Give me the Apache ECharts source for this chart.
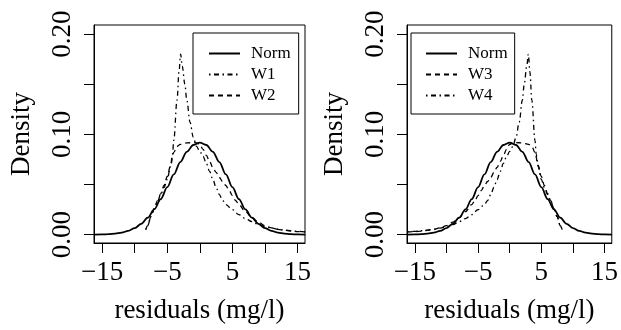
<!DOCTYPE html>
<html>
<head>
<meta charset="utf-8">
<script src="https://cdn.jsdelivr.net/npm/echarts@6/dist/echarts.min.js"></script>
<style>
  html, body { margin: 0; padding: 0; background: #fff; }
  #chart { width: 621px; height: 330px; }
</style>
</head>
<body>
<div id="chart"></div>
<script>
// values: [residual, density]
const normLeft = [
  [-16.2, 0.0001], [-15, 0.0002], [-14, 0.0005], [-13, 0.0011], [-12, 0.0020],
  [-11, 0.0038], [-10, 0.0065], [-9, 0.0108], [-8, 0.0169], [-7, 0.0252],
  [-6, 0.0355], [-5, 0.0474], [-4, 0.0601], [-3, 0.0724], [-2, 0.0826],
  [-1, 0.0894], [0, 0.0918], [1, 0.0894], [2, 0.0826], [3, 0.0724],
  [4, 0.0601], [5, 0.0474], [6, 0.0355], [7, 0.0252], [8, 0.0169],
  [9, 0.0108], [10, 0.0065], [11, 0.0038], [12, 0.0020], [13, 0.0011],
  [14, 0.0005], [15, 0.0002], [16.2, 0.0001]
];
const w1 = [
  [-8.3, 0.005], [-8.0, 0.009], [-7.5, 0.018], [-7.0, 0.026], [-6.5, 0.033],
  [-6.0, 0.040], [-5.5, 0.047], [-5.0, 0.055], [-4.5, 0.068], [-4.2, 0.080],
  [-4.0, 0.094], [-3.5, 0.134], [-3.2, 0.162], [-2.95, 0.180], [-2.7, 0.168],
  [-2.3, 0.150], [-2.0, 0.134], [-1.5, 0.112], [-1.0, 0.097], [-0.5, 0.088],
  [0, 0.083], [0.5, 0.078], [1.0, 0.071], [1.5, 0.063], [2.0, 0.055],
  [2.5, 0.047], [3.0, 0.040], [3.5, 0.034], [4, 0.030], [5, 0.025],
  [6, 0.020], [7, 0.016], [8, 0.013], [9, 0.010], [10, 0.008],
  [11, 0.0066], [12, 0.0055], [13, 0.0046], [14, 0.0039], [15, 0.0033],
  [16.2, 0.0028]
];
const w2 = [
  [-8.3, 0.005], [-8.0, 0.009], [-7.5, 0.018], [-7.0, 0.026], [-6.5, 0.034],
  [-6.0, 0.041], [-5.5, 0.049], [-5.0, 0.058], [-4.5, 0.069], [-4.0, 0.082],
  [-3.5, 0.088], [-3.0, 0.090], [-2.0, 0.0915], [-1.0, 0.0918], [-0.5, 0.0915],
  [0, 0.090], [0.5, 0.085], [1.0, 0.079], [1.5, 0.073], [2.0, 0.067],
  [2.5, 0.062], [3.0, 0.057], [3.5, 0.053], [4.0, 0.049], [4.5, 0.044],
  [5.0, 0.039], [5.5, 0.034], [6, 0.030], [7, 0.023], [8, 0.017],
  [9, 0.0125], [10, 0.009], [11, 0.0068], [12, 0.0053], [13, 0.0043],
  [14, 0.0036], [15, 0.0031], [16.2, 0.0027]
];
const normRight = normLeft;
const w3 = [
  [-16.2, 0.0027], [-15, 0.0031], [-14, 0.0036], [-13, 0.0043], [-12, 0.0053],
  [-11, 0.0068], [-10, 0.009], [-9, 0.0125], [-8, 0.017], [-7, 0.023],
  [-6, 0.030], [-5.5, 0.034], [-5.0, 0.039], [-4.5, 0.044], [-4.0, 0.049],
  [-3.5, 0.053], [-3.0, 0.057], [-2.5, 0.062], [-2.0, 0.067], [-1.5, 0.073],
  [-1.0, 0.079], [-0.5, 0.085], [0, 0.090], [0.5, 0.0915], [1.0, 0.0918],
  [2.0, 0.0915], [3.0, 0.090], [3.5, 0.088], [4.0, 0.082], [4.5, 0.069],
  [5.0, 0.058], [5.5, 0.049], [6.0, 0.041], [6.5, 0.034], [7.0, 0.026],
  [7.5, 0.018], [8.0, 0.009], [8.3, 0.005]
];
const w4 = [
  [-16.2, 0.0028], [-15, 0.0033], [-14, 0.0039], [-13, 0.0046], [-12, 0.0055],
  [-11, 0.0066], [-10, 0.008], [-9, 0.010], [-8, 0.013], [-7, 0.016],
  [-6, 0.020], [-5, 0.025], [-4, 0.030], [-3.5, 0.034], [-3.0, 0.040],
  [-2.5, 0.047], [-2.0, 0.055], [-1.5, 0.063], [-1.0, 0.071], [-0.5, 0.078],
  [0, 0.083], [0.5, 0.088], [1.0, 0.097], [1.5, 0.112], [2.0, 0.134],
  [2.3, 0.150], [2.7, 0.168], [2.95, 0.180], [3.2, 0.162], [3.5, 0.134],
  [4.0, 0.094], [4.2, 0.080], [4.5, 0.068], [5.0, 0.055], [5.5, 0.047],
  [6.0, 0.040], [6.5, 0.033], [7.0, 0.026], [7.5, 0.018], [8.0, 0.009],
  [8.3, 0.005]
];
const xTicks = [-15, -10, -5, 0, 5, 10, 15];
const xLabels = [-15, -5, 5, 15];
const yTicks = [0, 0.05, 0.1, 0.15, 0.2];
const yLabels = [0, 0.1, 0.2];

const FONT = 'Liberation Serif';
const DASHED = [5, 4];
const DOTDASH = [1.5, 3.5, 5, 3.5];

const chart = echarts.init(document.getElementById('chart'));

const xAxisOf = (gridIndex) => ({
  type: 'value',
  gridIndex,
  min: -16.25,
  max: 16.15,
  name: 'residuals (mg/l)',
  nameLocation: 'middle',
  nameGap: 54,
  nameTextStyle: { fontFamily: FONT, fontSize: 27, color: '#000' },
  axisLine: { show: true, onZero: false, lineStyle: { color: '#000', width: 1 } },
  axisTick: { show: true, length: 10, customValues: xTicks, lineStyle: { color: '#000' } },
  axisLabel: {
    customValues: xLabels,
    margin: 16,
    fontFamily: FONT,
    fontSize: 27,
    color: '#000',
    formatter: (v) => (v < 0 ? '\u2212' : '') + Math.abs(v),
  },
  splitLine: { show: false },
});

const yAxisOf = (gridIndex) => ({
  type: 'value',
  gridIndex,
  min: -0.0083,
  max: 0.209,
  name: 'Density',
  nameLocation: 'middle',
  nameGap: 59,
  nameTextStyle: { fontFamily: FONT, fontSize: 27, color: '#000' },
  axisLine: { show: true, onZero: false, lineStyle: { color: '#000', width: 1 } },
  axisTick: { show: true, length: 10, customValues: yTicks, lineStyle: { color: '#000' } },
  axisLabel: {
    customValues: yLabels,
    rotate: 90,
    margin: 18,
    fontFamily: FONT,
    fontSize: 27,
    color: '#000',
    formatter: (v) => v.toFixed(2),
  },
  splitLine: { show: false },
});

const lineSeries = (name, data, idx, type, width) => ({
  name,
  type: 'line',
  xAxisIndex: idx,
  yAxisIndex: idx,
  data,
  symbol: 'none',
  showSymbol: false,
  smooth: 0.35,
  smoothMonotone: 'x',
  color: '#000',
  itemStyle: { color: '#000' },
  lineStyle: { color: '#000', width, type },
  emphasis: { disabled: true },
});

const legendOf = (left, names, pad) => ({
  orient: 'vertical',
  left,
  top: 33,
  data: names,
  selectedMode: false,
  borderColor: '#000',
  borderWidth: 1,
  borderRadius: 0,
  padding: pad,
  itemWidth: 31,
  itemHeight: 14,
  itemGap: 4,
  itemStyle: { opacity: 0 },
  textStyle: { fontFamily: FONT, fontSize: 17, color: '#000', padding: [0, 0, 0, 6] },
});

chart.setOption({
  animation: false,
  backgroundColor: '#fff',
  grid: [
    { left: 94, top: 25, width: 211, height: 218, show: true, borderColor: '#000', borderWidth: 1 },
    { left: 407, top: 25, width: 211, height: 218, show: true, borderColor: '#000', borderWidth: 1 },
  ],
  xAxis: [xAxisOf(0), xAxisOf(1)],
  yAxis: [yAxisOf(0), yAxisOf(1)],
  legend: [
    legendOf(193, ['Norm', 'W1', 'W2'], [12, 8, 10, 15]),
    legendOf(411, ['Norm', 'W3', 'W4'], [12, 7, 10, 14]),
  ],
  series: [
    lineSeries('Norm', normLeft, 0, 'solid', 1.8),
    lineSeries('W1', w1, 0, DOTDASH, 1.3),
    lineSeries('W2', w2, 0, DASHED, 1.3),
    lineSeries('Norm', normRight, 1, 'solid', 1.8),
    lineSeries('W3', w3, 1, DASHED, 1.3),
    lineSeries('W4', w4, 1, DOTDASH, 1.3),
  ],
});
</script>
</body>
</html>
